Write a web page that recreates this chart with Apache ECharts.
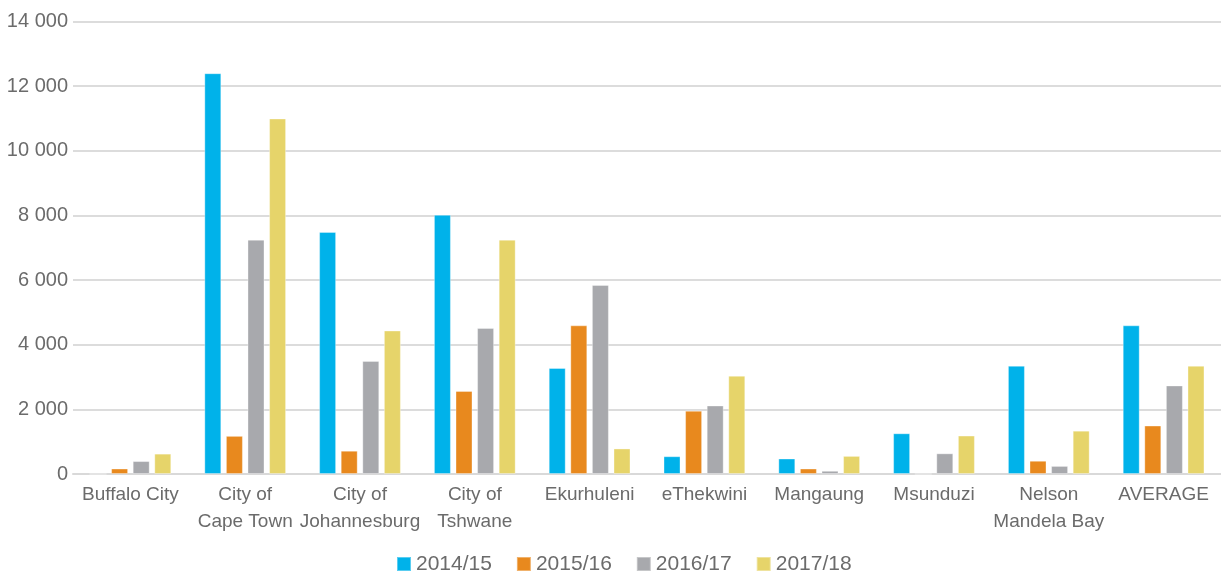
<!DOCTYPE html>
<html>
<head>
<meta charset="utf-8">
<script src="https://cdn.jsdelivr.net/npm/echarts@6/dist/echarts.min.js"></script>
<style>
  html, body { margin: 0; padding: 0; background: #fff; }
  #chart { width: 1221px; height: 571px; }
</style>
</head>
<body>
<div id="chart"></div>
<script>
// categories and values
var categories = ['Buffalo City', 'City of\nCape Town', 'City of\nJohannesburg', 'City of\nTshwane',
  'Ekurhuleni', 'eThekwini', 'Mangaung', 'Msunduzi', 'Nelson\nMandela Bay', 'AVERAGE']
var seriesNames = ['2014/15', '2015/16', '2016/17', '2017/18']
var y2014 = [0, 12400, 7490, 8020, 3280, 550, 480, 1260, 3350, 4600]
var y2015 = [170, 1180, 720, 2570, 4600, 1960, 170, 0, 410, 1500]
var y2016 = [400, 7250, 3500, 4520, 5850, 2120, 100, 640, 250, 2740]
var y2017 = [630, 11000, 4440, 7250, 790, 3040, 560, 1190, 1340, 3350]
var colors = ['#00b2ea', '#e8891e', '#a8a9ad', '#e6d46a']

var chart = echarts.init(document.getElementById('chart'))
var values = [y2014, y2015, y2016, y2017]

chart.setOption({
  animation: false,
  color: colors,
  textStyle: { fontFamily: 'Liberation Sans, Arial, sans-serif' },
  grid: { left: 73, right: 0, top: 21.5, bottom: 97, containLabel: false },
  legend: {
    top: 553,
    left: 396,
    padding: 0,
    itemWidth: 14,
    itemHeight: 14,
    itemGap: 24,
    icon: 'rect',
    textStyle: { fontSize: 21, color: '#6b6b6b', lineHeight: 22 },
    data: seriesNames
  },
  xAxis: {
    type: 'category',
    data: categories,
    axisTick: { show: false },
    axisLine: { lineStyle: { color: '#d9d9d9', width: 2 } },
    axisLabel: { fontSize: 19, color: '#6b6b6b', lineHeight: 27, margin: 7, interval: 0 }
  },
  yAxis: {
    type: 'value',
    min: 0,
    max: 14000,
    interval: 2000,
    axisLine: { show: false },
    axisTick: { show: false },
    splitLine: { lineStyle: { color: '#dcdcdc', width: 2 } },
    axisLabel: {
      fontSize: 20,
      color: '#6b6b6b',
      margin: 5,
      formatter: function(v) {
        return String(v).replace(/\B(?=(\d{3})+(?!\d))/g, ' ')
      }
    }
  },
  series: seriesNames.map(function(name, i) {
    return {
      name: name,
      type: 'bar',
      data: values[i],
      barWidth: 17,
      barGap: '27%',
      itemStyle: { borderColor: 'rgba(255,255,255,0.35)', borderWidth: 1 }
    }
  })
})
</script>
</body>
</html>
